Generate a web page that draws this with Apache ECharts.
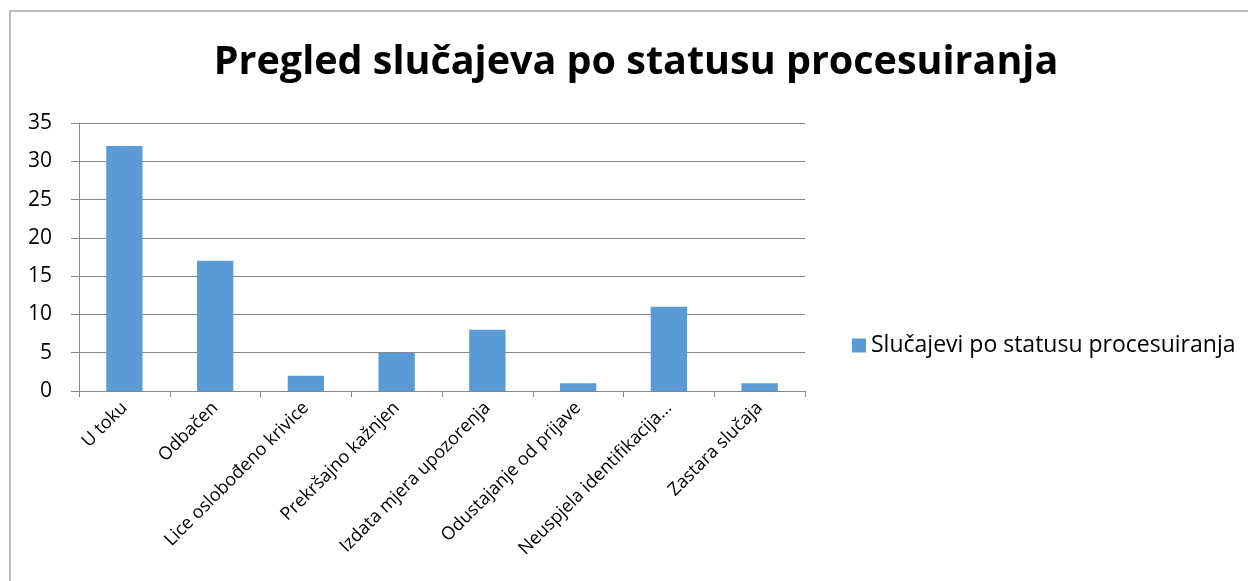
<!DOCTYPE html>
<html>
<head>
<meta charset="utf-8">
<script src="https://cdn.jsdelivr.net/npm/echarts@6/dist/echarts.min.js"></script>
<style>
  html, body { margin: 0; padding: 0; background: #fff; }
  #chart { width: 1248px; height: 581px; }
</style>
</head>
<body>
<div id="chart"></div>
<script>
var categories = ['U toku', 'Odbačen', 'Lice oslobođeno krivice', 'Prekršajno kažnjen',
  'Izdata mjera upozorenja', 'Odustajanje od prijave', 'Neuspjela identifikacija...', 'Zastara slučaja'];
var values = [32, 17, 2, 5, 8, 1, 11, 1];
var seriesName = 'Slučajevi po statusu procesuiranja';
var titleText = 'Pregled slučajeva po statusu procesuiranja';

var chart = echarts.init(document.getElementById('chart'));
var font = '"Open Sans", "Noto Sans", sans-serif';

chart.setOption({
  animation: false,
  backgroundColor: '#fff',
  textStyle: { fontFamily: font, color: '#000' },
  title: {
    text: titleText,
    left: 631, top: 38,
    textAlign: 'center',
    textStyle: { fontFamily: font, fontSize: 39.5, fontWeight: 'bold', color: '#000' }
  },
  legend: {
    left: 847, top: 329,
    orient: 'vertical',
    icon: 'rect',
    itemWidth: 14, itemHeight: 14,
    textStyle: { fontFamily: font, fontSize: 23, color: '#000' },
    data: [seriesName]
  },
  graphic: [{
    type: 'rect',
    shape: { x: 10, y: 11, width: 1400, height: 800 },
    style: { fill: 'none', stroke: '#a6a6a6', lineWidth: 1.5 },
    silent: true
  }],
  grid: { left: 79, right: 443, top: 123, bottom: 190 },
  xAxis: {
    type: 'category',
    data: categories,
    axisLine: { lineStyle: { color: '#868686', width: 1 } },
    axisTick: { show: true, length: 6, lineStyle: { color: '#868686' } },
    axisLabel: { rotate: 45, margin: 14, fontSize: 18, color: '#000', fontFamily: font, interval: 0 }
  },
  yAxis: {
    type: 'value',
    min: 0, max: 35, interval: 5,
    axisLine: { show: true, lineStyle: { color: '#868686', width: 1 } },
    axisTick: { show: true, length: 8, lineStyle: { color: '#868686' } },
    axisLabel: { margin: 27, fontSize: 21, color: '#000', fontFamily: font },
    splitLine: { lineStyle: { color: '#868686', width: 1 } }
  },
  series: [{
    name: seriesName,
    type: 'bar',
    data: values,
    barWidth: '40%',
    itemStyle: { color: '#5B9BD5' }
  }]
});
</script>
</body>
</html>
